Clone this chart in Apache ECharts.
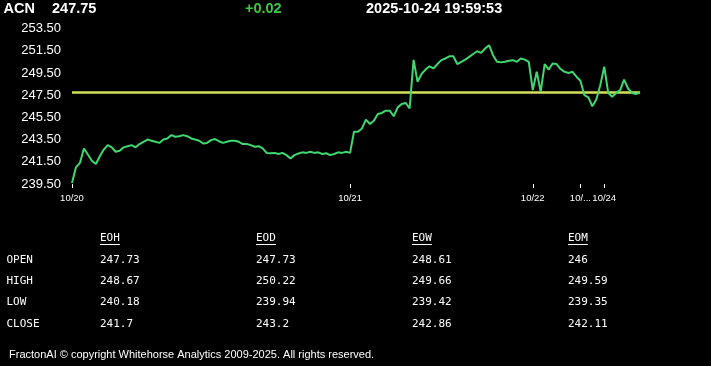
<!DOCTYPE html>
<html>
<head>
<meta charset="utf-8">
<script src="https://cdn.jsdelivr.net/npm/echarts@6/dist/echarts.min.js"></script>
<style>
html,body{margin:0;padding:0;background:#000;}
#chart{width:711px;height:366px;}
</style>
</head>
<body>
<div id="chart"></div>
<script>
// ---- header ----
var symbol = 'ACN';
var lastPrice = '247.75';
var change = '+0.02';
var timestamp = '2025-10-24 19:59:53';
var prevClose = 247.73;

// ---- x axis: trading days and number of points per day ----
var dayLabels = ['10/20', '10/21', '10/22', '10/...', '10/24'];
var dayPointCounts = [70, 46, 12, 6, 10];

// ---- y axis ----
var yMin = 239.5, yMax = 253.5, yStep = 2;

// ---- prices ----
var prices = [
  239.6, 241.0, 241.4, 242.7, 242.15, 241.6, 241.3, 242.0, 242.6, 243.0,
  242.8, 242.4, 242.5, 242.8, 242.9, 243.0, 242.8, 243.1, 243.3, 243.5,
  243.4, 243.3, 243.2, 243.5, 243.6, 243.9, 243.75, 243.8, 243.9, 243.8,
  243.6, 243.5, 243.4, 243.15, 243.2, 243.45, 243.55, 243.35, 243.2, 243.3,
  243.4, 243.4, 243.3, 243.1, 243.1, 243.0, 242.85, 242.9, 242.7, 242.3,
  242.27, 242.3, 242.2, 242.3, 242.1, 241.8, 242.1, 242.25, 242.35, 242.3,
  242.4, 242.3, 242.35, 242.2, 242.27, 242.1, 242.2, 242.35, 242.3, 242.4,
  242.3, 244.2, 244.2, 244.5, 245.3, 244.9, 245.2, 245.8, 245.9, 246.1,
  246.1, 245.6, 246.4, 246.7, 246.8, 246.3, 250.67, 248.7, 249.4, 249.8,
  250.1, 249.9, 250.3, 250.65, 250.8, 251.0, 251.0, 250.3, 250.5, 250.7,
  250.95, 251.2, 251.45, 251.3, 251.7, 252.0, 251.1, 250.5, 250.45, 250.5,
  250.6, 250.65, 250.5, 250.8, 250.7, 250.5,
  247.96, 249.6, 247.8, 250.3, 249.8, 250.35, 250.3, 249.85, 249.6, 249.5, 249.6, 249.16,
  248.8, 247.5, 247.3, 246.5, 247.1, 248.4,
  250.06, 247.7, 247.36, 247.7, 247.95, 248.9, 248.1, 247.7, 247.6, 247.75
];

// ---- table ----
var tableColumns = ['EOH', 'EOD', 'EOW', 'EOM'];
var tableRows = ['OPEN', 'HIGH', 'LOW', 'CLOSE'];
var colEOH = ['247.73', '248.67', '240.18', '241.7'];
var colEOD = ['247.73', '250.22', '239.94', '243.2'];
var colEOW = ['248.61', '249.66', '239.42', '242.86'];
var colEOM = ['246', '249.59', '239.35', '242.11'];
var footer = 'FractonAI \u00A9 copyright Whitehorse Analytics 2009-2025. All rights reserved.';

// ---- build ----
var categories = prices.map(function (_, i) { return String(i); });
var dayStartLabel = {};
var acc = 0;
dayPointCounts.forEach(function (n, d) { dayStartLabel[acc] = dayLabels[d]; acc += n; });
function isDayStart(idx) { return dayStartLabel.hasOwnProperty(idx); }

var WHITE = '#ffffff';
var monoFont = '11px "DejaVu Sans Mono", "Liberation Mono", monospace';
var graphics = [];
function txt(s, x, y, font, fill) {
  graphics.push({
    type: 'text', silent: true,
    style: { text: s, x: x, y: y, font: font, fill: fill, textAlign: 'left', textVerticalAlign: 'middle' }
  });
}
var headFont = 'bold 14.5px Arial, "Liberation Sans", sans-serif';
txt(symbol, 3.5, 9, headFont, WHITE);
txt(lastPrice, 52, 9, headFont, WHITE);
txt(change, 245, 9, headFont, '#3ec83e');
txt(timestamp, 366, 9, headFont, WHITE);

var colX = [100, 256, 412, 568];
var rowY = [260, 281, 302.5, 324.5];
var cols = [colEOH, colEOD, colEOW, colEOM];
var charW = 11 * 0.602;
tableColumns.forEach(function (c, j) {
  txt(c, colX[j], 238, monoFont, WHITE);
  graphics.push({
    type: 'line', silent: true,
    shape: { x1: colX[j], y1: 244.5, x2: colX[j] + c.length * charW, y2: 244.5 },
    style: { stroke: WHITE, lineWidth: 1 }
  });
});
tableRows.forEach(function (r, i) {
  txt(r, 6.5, rowY[i], monoFont, WHITE);
  cols.forEach(function (col, j) { txt(col[i], colX[j], rowY[i], monoFont, WHITE); });
});
txt(footer, 9, 355, '11px Arial, "Liberation Sans", sans-serif', WHITE);

var chart = echarts.init(document.getElementById('chart'), null, { renderer: 'canvas' });
chart.setOption({
  backgroundColor: '#000000',
  animation: false,
  grid: { left: 72, right: 71, top: 28.5, bottom: 182, containLabel: false },
  xAxis: {
    type: 'category',
    data: categories,
    boundaryGap: false,
    axisLine: { show: false },
    axisTick: {
      show: true, length: 4,
      interval: function (idx) { return isDayStart(idx); },
      lineStyle: { color: WHITE, width: 1 }
    },
    axisLabel: {
      interval: function (idx) { return isDayStart(idx); },
      formatter: function (v, idx) { return dayStartLabel[idx] || ''; },
      color: WHITE, fontSize: 9.5, margin: 9,
      fontFamily: 'Arial, "Liberation Sans", sans-serif'
    },
    splitLine: { show: false }
  },
  yAxis: {
    type: 'value',
    min: yMin, max: yMax, interval: yStep,
    axisLine: { show: false },
    axisTick: { show: false },
    splitLine: { show: false },
    axisLabel: {
      color: WHITE, fontSize: 13, margin: 11,
      fontFamily: 'Arial, "Liberation Sans", sans-serif',
      formatter: function (v) { return v.toFixed(2); }
    }
  },
  series: [{
    type: 'line',
    data: prices,
    symbol: 'none',
    lineStyle: { color: '#3fd86f', width: 2 },
    z: 3,
    markLine: {
      silent: true,
      symbol: 'none',
      label: { show: false },
      lineStyle: { color: '#d4e05a', width: 2.5, type: 'solid' },
      data: [{ yAxis: prevClose }],
      z: 2
    }
  }],
  graphic: graphics
});
</script>
</body>
</html>
